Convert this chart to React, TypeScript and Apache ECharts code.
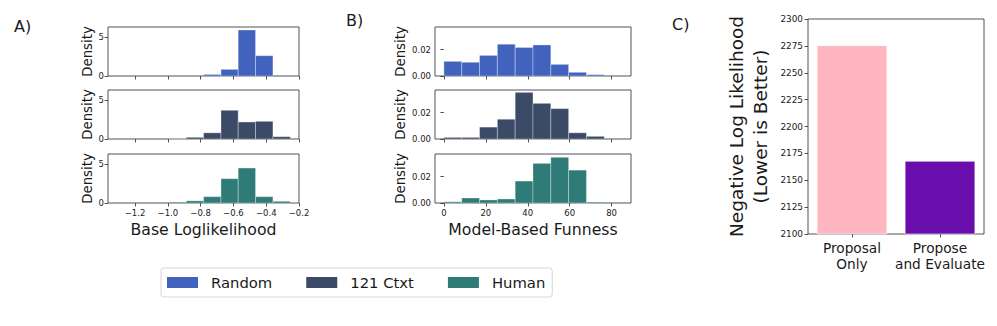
import React, { useEffect, useRef } from 'react';
import * as echarts from 'echarts';

// ---- data ----
const seriesNames = ['Random', '121 Ctxt', 'Human'];
const seriesColors = ['#4163bd', '#3b4a66', '#2e7b78'];

// Panel A: Base Loglikelihood histograms (density)
const baseLLEdges = [-1.312, -1.206, -1.1, -0.994, -0.888, -0.782, -0.676, -0.571, -0.465, -0.359, -0.253];
const baseLLRandom = [0, 0, 0, 0, 0, 0.2, 0.86, 5.96, 2.63, 0];
const baseLLCtxt = [0, 0, 0, 0.06, 0.22, 0.8, 3.72, 2.2, 2.29, 0.3];
const baseLLHuman = [0, 0, 0, 0.12, 0.28, 0.82, 3.15, 4.53, 0.82, 0.22];
const baseLLTicks = [-1.2, -1.0, -0.8, -0.6, -0.4, -0.2];
const baseLLDensityTicks = [0, 5];

// Panel B: Model-Based Funness histograms (density)
const funEdges = [0, 8.5, 17, 25.5, 34, 42.5, 51, 59.5, 68, 76.5, 85];
const funRandom = [0.0111, 0.0104, 0.0156, 0.0241, 0.0216, 0.0235, 0.0088, 0.0028, 0.001, 0];
const funCtxt = [0.0012, 0.0012, 0.009, 0.015, 0.0353, 0.027, 0.023, 0.0047, 0.002, 0];
const funHuman = [0.0009, 0.0038, 0.0023, 0.003, 0.0166, 0.03, 0.0346, 0.0249, 0.0007, 0];
const funTicks = [0, 20, 40, 60, 80];
const funDensityTicks = [0, 0.02];

// Panel C: NLL bars
const nllCategories = ['Proposal\nOnly', 'Propose\nand Evaluate'];
const nllValues = [2275.5, 2168];
const nllColors = ['#ffb6c1', '#6a0dad'];

const FONT = 'DejaVu Sans';
const AX = '#262626';
const TXT = '#1a1a1a';

const minus = (s: string) => s.replace('-', '\u2212');

function buildOption() {
  const gridTops = [27, 90, 154];
  const gridH = 49;
  const panels = [
    {
      left: 108, width: 191, edges: baseLLEdges, values: [baseLLRandom, baseLLCtxt, baseLLHuman],
      xMin: -1.365, xMax: -0.2, xTicks: baseLLTicks, yMax: 6.35, yTicks: baseLLDensityTicks,
      xName: 'Base Loglikelihood', xFmt: (v: number) => minus(v.toFixed(1)), yFmt: (v: number) => String(v), yNameGap: 14,
    },
    {
      left: 435, width: 196, edges: funEdges, values: [funRandom, funCtxt, funHuman],
      xMin: -4.25, xMax: 89.25, xTicks: funTicks, yMax: 0.0371, yTicks: funDensityTicks,
      xName: 'Model-Based Funness', xFmt: (v: number) => String(v), yFmt: (v: number) => v.toFixed(2), yNameGap: 28,
    },
  ];

  const grid: any[] = [];
  const xAxis: any[] = [];
  const yAxis: any[] = [];
  const series: any[] = [];

  panels.forEach((p) => {
    for (let i = 0; i < 3; i++) {
      const gi = grid.length;
      grid.push({ left: p.left, top: gridTops[i], width: p.width, height: gridH, show: true, borderColor: AX, borderWidth: 0.8, backgroundColor: 'transparent' });
      const isBottom = i === 2;
      xAxis.push({
        type: 'value', gridIndex: gi, min: p.xMin, max: p.xMax,
        axisLine: { show: false }, splitLine: { show: false },
        axisTick: { show: true, length: 3.5, customValues: p.xTicks, lineStyle: { color: AX, width: 0.8 } },
        axisLabel: { show: isBottom, customValues: p.xTicks, formatter: p.xFmt, fontFamily: FONT, fontSize: 8.5, color: TXT, margin: 5 },
        name: isBottom ? p.xName : '', nameLocation: 'middle', nameGap: 18,
        nameTextStyle: { fontFamily: FONT, fontSize: 15.7, color: TXT },
      });
      yAxis.push({
        type: 'value', gridIndex: gi, min: 0, max: p.yMax,
        axisLine: { show: false }, splitLine: { show: false },
        axisTick: { show: true, length: 3.5, customValues: p.yTicks, lineStyle: { color: AX, width: 0.8 } },
        axisLabel: { customValues: p.yTicks, formatter: p.yFmt, fontFamily: FONT, fontSize: 8.5, color: TXT, margin: 4 },
        name: 'Density', nameLocation: 'middle', nameRotate: 90, nameGap: p.yNameGap,
        nameTextStyle: { fontFamily: FONT, fontSize: 13.3, color: TXT },
      });
      const vals = p.values[i];
      const color = seriesColors[i];
      const data: number[][] = [];
      vals.forEach((h, k) => { if (h > 0) data.push([p.edges[k], p.edges[k + 1], h]); });
      series.push({
        type: 'custom', name: seriesNames[i], xAxisIndex: gi, yAxisIndex: gi,
        itemStyle: { color },
        encode: { x: [0, 1], y: 2 },
        data,
        renderItem: (_params: any, api: any) => {
          const a = api.coord([api.value(0), api.value(2)]);
          const b = api.coord([api.value(1), 0]);
          return {
            type: 'rect',
            shape: { x: a[0], y: a[1], width: b[0] - a[0], height: b[1] - a[1] },
            style: { fill: color, stroke: 'rgba(255,255,255,0.55)', lineWidth: 0.6 },
          };
        },
      });
    }
  });

  // Panel C
  const gc = grid.length;
  grid.push({ left: 808, top: 19, width: 176, height: 215, show: true, borderColor: AX, borderWidth: 0.8, backgroundColor: 'transparent' });
  xAxis.push({
    type: 'category', gridIndex: gc, data: nllCategories,
    axisLine: { show: false },
    axisTick: { show: true, alignWithLabel: true, length: 3.5, lineStyle: { color: AX, width: 0.8 } },
    axisLabel: { interval: 0, fontFamily: FONT, fontSize: 13.7, color: TXT, lineHeight: 16, margin: 6 },
  });
  yAxis.push({
    type: 'value', gridIndex: gc, min: 2100, max: 2300, interval: 25,
    axisLine: { show: false }, splitLine: { show: false },
    axisTick: { show: true, length: 3.5, lineStyle: { color: AX, width: 0.8 } },
    axisLabel: { formatter: (v: number) => String(v), fontFamily: FONT, fontSize: 8.9, color: TXT, margin: 5 },
    name: 'Negative Log Likelihood\n(Lower is Better)', nameLocation: 'middle', nameRotate: 90, nameGap: 36,
    nameTextStyle: { fontFamily: FONT, fontSize: 18.5, color: TXT, lineHeight: 24 },
  });
  series.push({
    type: 'bar', name: 'NLL', xAxisIndex: gc, yAxisIndex: gc, barCategoryGap: '20%', clip: true,
    data: nllValues.map((v, i) => ({ value: v, itemStyle: { color: nllColors[i], borderColor: '#fff', borderWidth: 0.6 } })),
  });

  return {
    animation: false,
    backgroundColor: '#fff',
    textStyle: { fontFamily: FONT },
    grid, xAxis, yAxis, series,
    legend: {
      data: seriesNames, left: 161, top: 268, orient: 'horizontal', icon: 'rect',
      itemWidth: 31, itemHeight: 11, itemGap: 34, selectedMode: false,
      borderColor: '#d6d6d6', borderWidth: 1, borderRadius: 3, padding: [7, 7, 7, 6],
      textStyle: { fontFamily: FONT, fontSize: 14.8, color: TXT, padding: [0, 0, 0, 8] },
    },
    graphic: [
      { type: 'text', left: 14, top: 18, style: { text: 'A)', fontFamily: FONT, fontSize: 16, fill: TXT } },
      { type: 'text', left: 346, top: 12, style: { text: 'B)', fontFamily: FONT, fontSize: 16, fill: TXT } },
      { type: 'text', left: 672, top: 16, style: { text: 'C)', fontFamily: FONT, fontSize: 16, fill: TXT } },
    ],
  };
}

export default function App() {
  const ref = useRef<HTMLDivElement>(null);
  useEffect(() => {
    const chart = echarts.init(ref.current!, null, { renderer: 'svg' });
    chart.setOption(buildOption() as any);
    return () => chart.dispose();
  }, []);
  return <div ref={ref} style={{ position: 'fixed', left: 0, top: 0, width: 997, height: 326, background: '#fff' }} />;
}
